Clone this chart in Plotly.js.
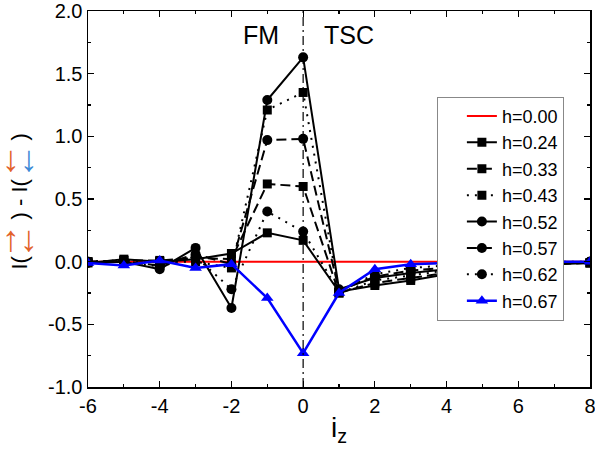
<!DOCTYPE html>
<html>
<head>
<meta charset="utf-8">
<script src="https://cdn.plot.ly/plotly-3.0.1.min.js"></script>
<style>html,body{margin:0;padding:0;background:#fff;}#chart{width:595px;height:456px;}</style>
</head>
<body>
<div id="chart"></div>
<script>
// ---- data ----
const iz = [-6, -5, -4, -3, -2, -1, 0, 1, 2, 3, 4, 5, 6, 7, 8];
const seriesNames = ["h=0.00", "h=0.24", "h=0.33", "h=0.43", "h=0.52", "h=0.57", "h=0.62", "h=0.67"];
const h000 = [0, 0, 0, 0, 0, 0, 0, 0, 0, 0, 0, 0, 0, 0, 0];
const h024 = [-0.01, 0.02, 0.00, 0.02, 0.065, 0.23, 0.17, -0.24, -0.19, -0.15, -0.10, -0.06, -0.03, -0.02, -0.01];
const h033 = [0.00, 0.01, 0.01, 0.03, 0.02, 0.62, 0.60, -0.25, -0.17, -0.13, -0.09, -0.05, -0.03, -0.02, -0.01];
const h043 = [0.00, 0.01, 0.00, 0.00, -0.05, 1.21, 1.35, -0.25, -0.15, -0.11, -0.07, -0.04, -0.02, -0.01, -0.01];
const h052 = [-0.01, 0.00, -0.06, 0.11, -0.37, 1.29, 1.63, -0.22, -0.13, -0.09, -0.06, -0.03, -0.02, -0.01, 0.00];
const h057 = [0.00, 0.00, -0.03, 0.06, -0.02, 0.97, 0.98, -0.23, -0.12, -0.07, -0.05, -0.03, -0.02, -0.01, 0.00];
const h062 = [0.00, 0.00, -0.04, 0.04, -0.22, 0.40, 0.24, -0.24, -0.10, -0.05, -0.03, -0.02, -0.01, 0.00, 0.00];
const h067 = [-0.01, -0.03, 0.01, -0.05, -0.02, -0.29, -0.73, -0.25, -0.06, -0.02, -0.01, -0.01, 0.00, 0.00, 0.00];
const xTickVals = [-6, -4, -2, 0, 2, 4, 6, 8];
const yTickVals = [-1.0, -0.5, 0.0, 0.5, 1.0, 1.5, 2.0];
const regionLabels = ["FM", "TSC"];
const regionX = [-1.17, 1.28];

// ---- styles ----
const DASH = "10px,5px";
const DOT = "2px,6px";
function tr(y, name, color, dash, symbol, msize, lw) {
  const t = {
    x: iz, y: y, name: name, type: "scatter",
    mode: symbol ? "lines+markers" : "lines",
    line: {color: color, width: lw || 2, dash: dash},
  };
  if (symbol) t.marker = {symbol: symbol, size: msize, color: color};
  return t;
}
const data = [
  tr(h000, seriesNames[0], "#ff0000", "solid", null, 0, 2),
  tr(h024, seriesNames[1], "#000000", "solid", "square", 9),
  tr(h033, seriesNames[2], "#000000", DASH, "square", 9),
  tr(h043, seriesNames[3], "#000000", DOT, "square", 9),
  tr(h052, seriesNames[4], "#000000", "solid", "circle", 10),
  tr(h057, seriesNames[5], "#000000", DASH, "circle", 10),
  tr(h062, seriesNames[6], "#000000", DOT, "circle", 10),
  tr(h067, seriesNames[7], "#0000ff", "solid", "triangle-up", 11, 2.5),
];

const FONT = "Liberation Sans, Arial, sans-serif";
const ORANGE = "#e2622a";
const BLUE = "#3d8ad6";
function rot(text, yshift) {
  return {xref: "paper", yref: "paper", x: 0, y: 0, xshift: -69, yshift: yshift,
    text: text, showarrow: false, textangle: -90, xanchor: "center", yanchor: "middle",
    font: {family: FONT, size: 22, color: "#000"}};
}
function arrows(text, ys) {
  return {xref: "paper", yref: "paper", x: 0, y: 0, xshift: -68, yshift: ys,
    text: text, showarrow: false, xanchor: "center", yanchor: "middle",
    font: {family: FONT, size: 36, color: ORANGE}};
}
const annotations = [
  rot("I(", 386.5 - 262),
  rot(") - I(", 386.5 - 199),
  rot(")", 386.5 - 137),
  arrows('<span style="color:' + ORANGE + '">↑</span><span style="color:' + ORANGE + '">↓</span>', 386.5 - 238),
  arrows('<span style="color:' + ORANGE + '">↓</span><span style="color:' + BLUE + '">↓</span>', 386.5 - 158),
];
regionLabels.forEach((t, i) => annotations.push({
  xref: "x", yref: "y", x: regionX[i], y: 1.81, text: t, showarrow: false,
  xanchor: "center", yanchor: "middle", font: {family: FONT, size: 25, color: "#000"}
}));

const axisCommon = {
  showgrid: false, zeroline: false, showline: true, mirror: "ticks",
  linecolor: "#000", linewidth: 1.5, ticks: "inside", ticklen: 6, tickwidth: 1.2, tickcolor: "#000",
  tickfont: {family: FONT, size: 20, color: "#000"}, ticklabeloverflow: "allow",
};
const layout = {
  width: 595, height: 456,
  margin: {l: 88, r: 5, t: 11, b: 69},
  paper_bgcolor: "#fff", plot_bgcolor: "#fff",
  showlegend: true,
  legend: {x: 0.695, y: 0.772, xanchor: "left", yanchor: "top",
    bgcolor: "#fff", bordercolor: "#888", borderwidth: 1, indentation: 24,
    font: {family: FONT, size: 18, color: "#000"}},
  xaxis: Object.assign({}, axisCommon, {
    range: [-6, 8], tickvals: xTickVals, ticktext: xTickVals.map(String),
    minor: {dtick: 1, ticks: "inside", ticklen: 3, tickcolor: "#000"},
    title: {text: "i<sub>z</sub>", font: {family: FONT, size: 28, color: "#000"}, standoff: 2},
  }),
  yaxis: Object.assign({}, axisCommon, {
    range: [-1, 2], tickvals: yTickVals, ticktext: yTickVals.map(v => v.toFixed(1)),
    minor: {dtick: 0.25, ticks: "inside", ticklen: 3, tickcolor: "#000"},
  }),
  shapes: [{type: "line", xref: "x", yref: "paper", x0: 0, x1: 0, y0: 0, y1: 1,
    line: {color: "#000", width: 1.2, dash: "9px,4px,2px,4px"}}],
  annotations: annotations,
};
Plotly.newPlot("chart", data, layout, {displayModeBar: false, staticPlot: true});
</script>
</body>
</html>
